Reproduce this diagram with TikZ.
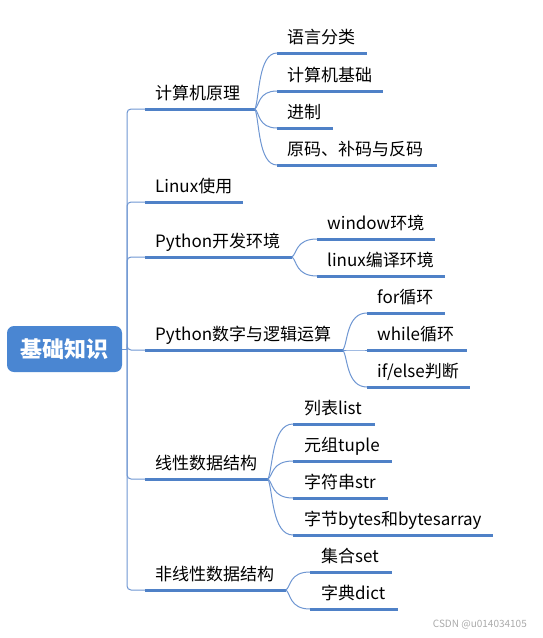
\documentclass[tikz,border=0pt]{standalone}
\usepackage{fontspec}
\setmainfont{Noto Sans CJK SC}
\usetikzlibrary{calc}
\definecolor{thickc}{RGB}{79,129,199}
\definecolor{thinc}{RGB}{110,150,210}
\definecolor{rootc}{RGB}{74,134,210}
\definecolor{wmc}{RGB}{170,170,170}
\newcommand\kid[2]{\draw[link] (#1) .. controls ($(#1)!0.2!(#2)$) and ($(#2)!0.85!(#2 -| #1)$) .. (#2);}
\begin{document}
\begin{tikzpicture}[x=1pt,y=-1pt,
  lbl/.style={anchor=base west, inner sep=0pt, font=\fontsize{17}{20}\selectfont},
  uline/.style={draw=thickc, line width=3pt},
  link/.style={draw=thinc, line width=1pt},
  rootbox/.style={fill=rootc, rounded corners=7pt, minimum width=115pt, minimum height=46pt, text=white, font=\fontsize{22}{26}\selectfont\bfseries, inner sep=0pt}]
\useasboundingbox (0,0) rectangle (542,638);

% root
\node[rootbox] (root) at (64.5,349) {基础知识};
\coordinate (rj) at (127,349);
\draw[link] (root.east) -- (rj);

% ---------- level 1 ----------
\coordinate (As) at (145,109); \coordinate (Ae) at (255,109);
\coordinate (Bs) at (145,202); \coordinate (Be) at (243,202);
\coordinate (Cs) at (145,257); \coordinate (Ce) at (292,257);
\coordinate (Ds) at (145,350); \coordinate (De) at (343,350);
\coordinate (Es) at (145,479); \coordinate (Ee) at (268,479);
\coordinate (Fs) at (145,590); \coordinate (Fe) at (286,590);
\foreach \b in {A,B,C,D,E,F}{
  \draw[link, rounded corners=4pt] (rj) |- (\b s);
  \draw[uline] (\b s) -- (\b e);
}
\node[lbl] (A) at (155,99.5) {计算机原理};
\node[lbl] (B) at (155,192.5) {Linux使用};
\node[lbl] (C) at (155,247.5) {Python开发环境};
\node[lbl] (D) at (155,340.5) {Python数字与逻辑运算};
\node[lbl] (E) at (155,469.5) {线性数据结构};
\node[lbl] (F) at (155,580.5) {非线性数据结构};

% ---------- level 2 ----------
% A
\coordinate (a1s) at (277,53);  \coordinate (a1e) at (367,53);
\coordinate (a2s) at (277,91);  \coordinate (a2e) at (383,91);
\coordinate (a3s) at (277,128); \coordinate (a3e) at (333,128);
\coordinate (a4s) at (277,165); \coordinate (a4e) at (437,165);
\node[lbl] (a1) at (287,43.5) {语言分类};
\node[lbl] (a2) at (287,81.5) {计算机基础};
\node[lbl] (a3) at (287,118.5) {进制};
\node[lbl] (a4) at (287,155.5) {原码、补码与反码};
% C
\coordinate (c1s) at (317,239); \coordinate (c1e) at (435,239);
\coordinate (c2s) at (317,276); \coordinate (c2e) at (445,276);
\node[lbl] (c1) at (327,229.5) {window环境};
\node[lbl] (c2) at (327,266.5) {linux编译环境};
% D
\coordinate (d1s) at (367,313); \coordinate (d1e) at (445,313);
\coordinate (d2s) at (367,350); \coordinate (d2e) at (467,350);
\coordinate (d3s) at (367,387); \coordinate (d3e) at (470,387);
\node[lbl] (d1) at (377,303.5) {for循环};
\node[lbl] (d2) at (377,340.5) {while循环};
\node[lbl] (d3) at (377,377.5) {if/else判断};
% E
\coordinate (e1s) at (293,424); \coordinate (e1e) at (375,424);
\coordinate (e2s) at (293,461); \coordinate (e2e) at (392,461);
\coordinate (e3s) at (293,498); \coordinate (e3e) at (388,498);
\coordinate (e4s) at (293,535); \coordinate (e4e) at (493,535);
\node[lbl] (e1) at (304,414.5) {列表list};
\node[lbl] (e2) at (304,451.5) {元组tuple};
\node[lbl] (e3) at (304,488.5) {字符串str};
\node[lbl] (e4) at (304,525.5) {字节bytes和bytesarray};
% F
\coordinate (f1s) at (310,572); \coordinate (f1e) at (392,572);
\coordinate (f2s) at (310,609); \coordinate (f2e) at (398,609);
\node[lbl] (f1) at (321,562.5) {集合set};
\node[lbl] (f2) at (321,599.5) {字典dict};

\foreach \k in {a1,a2,a3,a4,c1,c2,d1,d2,d3,e1,e2,e3,e4,f1,f2}{
  \draw[uline] (\k s) -- (\k e);
}
\foreach \k in {a1,a2,a3,a4}{\kid{Ae}{\k s}}
\foreach \k in {c1,c2}{\kid{Ce}{\k s}}
\foreach \k in {d1,d2,d3}{\kid{De}{\k s}}
\foreach \k in {e1,e2,e3,e4}{\kid{Ee}{\k s}}
\foreach \k in {f1,f2}{\kid{Fe}{\k s}}

% watermark
\node[anchor=east, inner sep=0pt, text=wmc, font=\fontsize{10}{12}\selectfont] (wm) at (527,625) {CSDN @u014034105};
\end{tikzpicture}
\end{document}
